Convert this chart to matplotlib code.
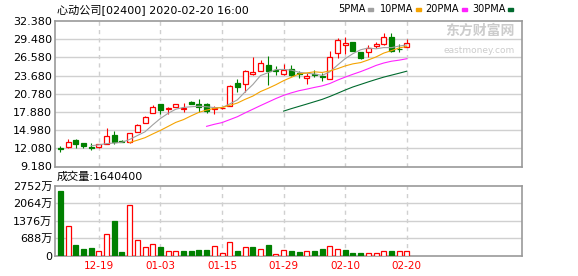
import numpy as np
import pandas as pd
import matplotlib
matplotlib.use('Agg')
import matplotlib.pyplot as plt

plt.rcParams['font.family'] = ['DejaVu Sans', 'Noto Sans CJK SC']

# trading days
dates = ['12-12', '12-13', '12-16', '12-17', '12-18', '12-19', '12-20', '12-23', '12-24', '12-27',
         '12-30', '12-31', '01-02', '01-03', '01-06', '01-07', '01-08', '01-09', '01-10', '01-13',
         '01-14', '01-15', '01-16', '01-17', '01-20', '01-21', '01-22', '01-23', '01-24', '01-29',
         '01-30', '01-31', '02-03', '02-04', '02-05', '02-06', '02-07', '02-10', '02-11', '02-12',
         '02-13', '02-14', '02-17', '02-18', '02-19', '02-20']
opens = [12.10, 12.29, 13.41, 12.93, 12.35, 12.29, 12.82, 14.21, 13.30, 13.14,
         14.74, 16.08, 17.67, 19.17, 18.30, 18.64, 18.32, 19.44, 19.17, 19.17,
         18.32, 18.50, 18.85, 22.57, 22.36, 23.94, 24.43, 25.40, 24.50, 24.00,
         24.69, 24.10, 23.25, 23.90, 23.55, 23.20, 27.24, 28.60, 28.99, 27.50,
         27.40, 28.41, 28.68, 29.90, 27.95, 28.20]
highs = [12.40, 13.52, 13.57, 12.98, 12.98, 12.80, 15.27, 14.85, 13.35, 14.50,
         15.96, 17.24, 19.00, 19.17, 18.64, 19.22, 19.28, 19.60, 19.97, 19.28,
         18.80, 18.60, 22.10, 23.10, 24.50, 26.64, 26.10, 26.75, 25.27, 25.60,
         25.30, 24.47, 24.16, 24.50, 24.05, 27.66, 29.60, 29.90, 29.00, 27.50,
         28.57, 29.10, 30.43, 30.54, 28.73, 29.50]
lows = [11.45, 12.19, 12.19, 12.19, 11.81, 12.20, 12.82, 12.77, 13.05, 12.88,
        14.74, 16.08, 17.67, 17.57, 17.57, 18.64, 17.92, 19.17, 17.92, 17.66,
        17.55, 18.40, 18.85, 21.00, 21.00, 23.84, 24.43, 22.25, 23.84, 23.73,
        23.60, 23.25, 22.29, 23.40, 22.85, 23.10, 26.44, 27.15, 27.60, 26.33,
        26.70, 28.03, 28.57, 27.40, 27.40, 28.20]
closes = [12.00, 13.04, 12.72, 12.50, 12.19, 12.72, 14.05, 13.14, 13.08, 14.48,
          15.80, 17.08, 18.64, 18.21, 18.55, 19.12, 18.48, 19.17, 18.64, 18.10,
          18.48, 18.50, 22.04, 21.93, 24.43, 24.30, 25.70, 24.37, 24.37, 24.54,
          23.79, 23.95, 23.63, 23.70, 23.45, 26.60, 29.36, 28.80, 27.66, 26.54,
          28.03, 28.68, 29.80, 27.60, 27.85, 28.84]
# volume in 万
volumes = [2565, 1161, 418, 258, 311, 166, 842, 1372, 139, 1995,
           604, 338, 444, 338, 166, 166, 179, 179, 219, 219,
           365, 99, 524, 179, 338, 338, 258, 418, 70, 205,
           179, 139, 166, 179, 258, 365, 258, 219, 99, 99,
           99, 99, 179, 179, 179, 164]
vol_up = [0, 1, 0, 0, 0, 1, 1, 0, 0, 1,
          1, 1, 1, 0, 1, 1, 0, 0, 0, 0,
          1, 1, 1, 0, 1, 0, 1, 0, 1, 1,
          0, 0, 1, 0, 0, 1, 1, 0, 0, 0,
          1, 1, 1, 0, 1, 1]

ma_periods = [5, 10, 20, 30]
ma_colors = ['#a0a0a0', '#f5a300', '#ff22ff', '#006a2e']
price_ticks = [9.18 + 2.9 * k for k in range(9)]
vol_ticks = [0, 688, 1376, 2064, 2752]
xlabels = ['12-19', '01-03', '01-15', '01-29', '02-10', '02-20']

RED = '#ff0000'
GREEN = '#008000'
GRID = '#d0d0d0'
SPINE = '#999999'

W, H = 578, 276
fig = plt.figure(figsize=(W / 100, H / 100), dpi=100)

def px_axes(x0, y0, x1, y1):
    return fig.add_axes([x0 / W, 1 - y1 / H, (x1 - x0) / W, (y1 - y0) / H])

ax = px_axes(55, 21, 522, 166.5)
axv = px_axes(55, 186, 522, 255.5)

x = np.arange(len(dates))
o = np.array(opens); c = np.array(closes)
up = c >= o
cols = [RED if u else GREEN for u in up]
xticks = [dates.index(d) for d in xlabels]

for a in (ax, axv):
    a.set_xlim(-0.69, 59.96)
    for s in a.spines.values():
        s.set_color(SPINE)
        s.set_linewidth(1.2)
    a.tick_params(length=0, labelsize=8, pad=2)
    for xt in xticks:
        a.axvline(xt, color=GRID, lw=1, ls=(0, (3, 3)), zorder=0)

# --- price panel
ax.set_ylim(price_ticks[0], price_ticks[-1])
ax.set_yticks(price_ticks)
ax.set_yticklabels(['%.3f' % t for t in price_ticks])
for t in price_ticks[1:-1]:
    ax.axhline(t, color=GRID, lw=1, zorder=0)
ax.set_xticks([])

ax.vlines(x, lows, highs, colors=cols, lw=0.8, zorder=2)
body_h = np.abs(c - o)
body_b = np.minimum(o, c)
ax.bar(x, body_h, 0.65, bottom=body_b, facecolor=['white' if u else GREEN for u in up],
       edgecolor=cols, linewidth=0.9, zorder=3)

close_s = pd.Series(closes)
for n, col in zip(ma_periods, ma_colors):
    ax.plot(x, close_s.rolling(n).mean(), color=col, lw=0.8, zorder=4)

# watermark
ax.text(0.985, 0.93, '东方财富网', transform=ax.transAxes, ha='right', va='center',
        fontsize=10, color='#cccccc', fontweight='bold', family=['Noto Sans CJK SC'])
ax.text(0.985, 0.80, 'eastmoney.com', transform=ax.transAxes, ha='right', va='center',
        fontsize=6.5, color='#cccccc')

# --- volume panel
axv.set_ylim(0, vol_ticks[-1])
axv.set_yticks(vol_ticks)
axv.set_yticklabels(['0'] + ['%d万' % t for t in vol_ticks[1:]])
for t in vol_ticks[1:-1]:
    axv.axhline(t, color=GRID, lw=1, zorder=0)
axv.set_xticks(xticks)
axv.set_xticklabels(xlabels, color=RED, fontsize=7.5)
axv.tick_params(axis='x', pad=4)
vcols = [RED if u else GREEN for u in vol_up]
axv.bar(x, volumes, 0.65, facecolor=['white' if u else GREEN for u in vol_up],
        edgecolor=vcols, linewidth=0.9, zorder=3)

# --- texts
fig.text(57 / W, 1 - 9.5 / H, '心动公司[02400] 2020-02-20 16:00', fontsize=8, va='center')
fig.text(57 / W, 1 - 177 / H, '成交量:1640400', fontsize=8, va='center')
leg = [('5PMA', 338, 368), ('10PMA', 380, 416), ('20PMA', 425, 462), ('30PMA', 472, 508)]
for (lab, tx, mx), col in zip(leg, ma_colors):
    fig.text(tx / W, 1 - 9.5 / H, lab, fontsize=7, va='center')
    fig.patches.append(plt.Rectangle((mx / W, 1 - 11 / H), 5 / W, 3 / H,
                                     transform=fig.transFigure, color=col, figure=fig))

fig.savefig('out.png', dpi=100)
